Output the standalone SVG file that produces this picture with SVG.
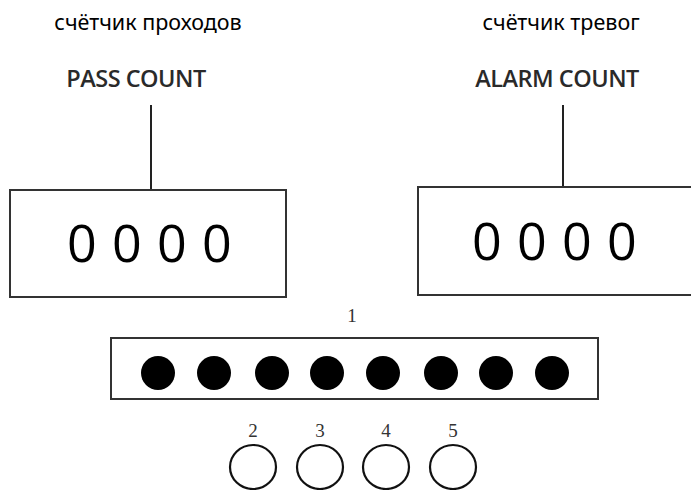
<svg xmlns="http://www.w3.org/2000/svg" width="691" height="490" viewBox="0 0 691 490">
<style>
.ru{font-family:"Noto Sans","Open Sans",sans-serif;font-size:21.5px;fill:#000;text-anchor:middle}
.en{font-family:"Open Sans","Noto Sans",sans-serif;font-size:23.5px;font-weight:600;fill:#2a2a2a;text-anchor:middle;letter-spacing:-0.5px}
.dig{font-family:"Open Sans","Noto Sans",sans-serif;font-size:52px;fill:#000;letter-spacing:15.3px}
.num{font-family:"Liberation Serif","DejaVu Serif",serif;font-size:19px;fill:#333;text-anchor:middle}
.box{fill:#fff;stroke:#333;stroke-width:2}
.wire{stroke:#222;stroke-width:2;fill:none}
.led{fill:#000}
.btn{fill:none;stroke:#111;stroke-width:2.2}
</style>
<rect width="691" height="490" fill="#fff"/>
<g id="connectors">
<line class="wire" x1="151" y1="105" x2="151" y2="190"/>
<line class="wire" x1="563" y1="105" x2="563" y2="187"/>
</g>
<g id="pass-label">
<text class="ru" x="148" y="30">счётчик проходов</text>
<text class="en" x="136" y="87">PASS COUNT</text>
</g>
<g id="alarm-label">
<text class="ru" x="561" y="30">счётчик тревог</text>
<text class="en" x="557" y="87">ALARM COUNT</text>
</g>
<g id="pass-count">
<rect class="box" x="10" y="190" width="276" height="107"/>
<text class="dig" x="67" y="262">0000</text>
</g>
<g id="alarm-count">
<rect class="box" x="418" y="187" width="280" height="108"/>
<text class="dig" x="472" y="260">0000</text>
</g>
<g id="indicator-bar">
<text class="num" x="352" y="322">1</text>
<rect class="box" x="111" y="338" width="487" height="61"/>
<circle class="led" cx="158" cy="373" r="17"/>
<circle class="led" cx="214" cy="373" r="17"/>
<circle class="led" cx="272" cy="373" r="17"/>
<circle class="led" cx="327" cy="373" r="17"/>
<circle class="led" cx="383" cy="373" r="17"/>
<circle class="led" cx="441" cy="373" r="17"/>
<circle class="led" cx="496" cy="373" r="17"/>
<circle class="led" cx="552" cy="373" r="17"/>
</g>
<g id="button-2">
<text class="num" x="253" y="437">2</text>
<ellipse class="btn" cx="253" cy="467" rx="23" ry="22"/>
</g>
<g id="button-3">
<text class="num" x="320" y="437">3</text>
<ellipse class="btn" cx="320" cy="467" rx="23" ry="22"/>
</g>
<g id="button-4">
<text class="num" x="386" y="437">4</text>
<ellipse class="btn" cx="386" cy="467" rx="23" ry="22"/>
</g>
<g id="button-5">
<text class="num" x="453" y="437">5</text>
<ellipse class="btn" cx="453" cy="467" rx="23" ry="22"/>
</g>
</svg>
